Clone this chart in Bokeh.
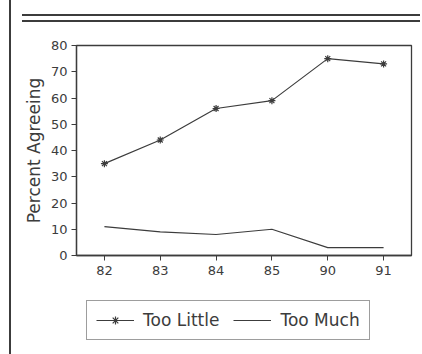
from bokeh.plotting import figure
from bokeh.layouts import column
from bokeh.models import (ColumnDataSource, FixedTicker, Legend, LegendItem, Range1d,
                          InlineStyleSheet)
from bokeh.embed import file_html
from bokeh.resources import INLINE

years = ["82", "83", "84", "85", "90", "91"]
too_little = [35, 44, 56, 59, 75, 73]
too_much = [11, 9, 8, 10, 3, 3]
y_ticks = [0, 10, 20, 30, 40, 50, 60, 70, 80]
series_names = ["Too Little", "Too Much"]

xs = list(range(len(years)))
src = ColumnDataSource(dict(x=xs, little=too_little, much=too_much))

FONT = "DejaVu Sans"
INK = "#3c3c3c"

p = figure(frame_width=335, frame_height=210, output_backend="svg", toolbar_location=None,
           x_range=Range1d(-0.5, len(years) - 0.5), y_range=Range1d(0, 80),
           min_border_left=76, min_border_right=2, min_border_top=45,
           min_border_bottom=40)
p.background_fill_color = "white"
p.border_fill_color = "white"
p.grid.visible = False
p.outline_line_color = INK
p.outline_line_width = 1.3

p.xaxis.ticker = FixedTicker(ticks=xs)
p.xaxis.major_label_overrides = {i: t for i, t in enumerate(years)}
p.yaxis.ticker = FixedTicker(ticks=y_ticks)
p.yaxis.axis_label = "Percent Agreeing"
for ax in (p.xaxis[0], p.yaxis[0]):
    ax.axis_line_color = INK
    ax.axis_line_width = 1.3
    ax.major_tick_line_color = INK
    ax.major_tick_in = 0
    ax.major_tick_out = 5
    ax.minor_tick_line_color = None
    ax.major_label_text_font = FONT
    ax.major_label_text_font_size = "13px"
    ax.major_label_text_color = INK
p.xaxis.major_label_standoff = 5
p.yaxis.major_label_standoff = 4
p.yaxis.axis_label_text_font = FONT
p.yaxis.axis_label_text_font_size = "17px"
p.yaxis.axis_label_text_font_style = "normal"
p.yaxis.axis_label_text_color = INK
p.yaxis.axis_label_standoff = 4

p.line("x", "little", source=src, line_color=INK, line_width=1.2)
p.scatter("x", "little", source=src, marker="asterisk", size=7,
          line_color=INK, line_width=1.2)
p.line("x", "much", source=src, line_color=INK, line_width=1.2)

p.stylesheets = [InlineStyleSheet(css="""
:host::after { content: ""; position: absolute; left: 0; top: 0; width: 422px;
  height: 354px; pointer-events: none;
  background:
    linear-gradient(#3c3c3c, #3c3c3c) 9px 0 / 2px 354px no-repeat,
    linear-gradient(#3c3c3c, #3c3c3c) 22px 14px / 398px 2px no-repeat,
    linear-gradient(#3c3c3c, #3c3c3c) 22px 20px / 398px 2px no-repeat;
}
""")]

# legend strip below the chart (same series, drawn out of this strip's view)
p2 = figure(width=414, height=59, output_backend="svg", toolbar_location=None,
            x_range=Range1d(-0.5, len(years) - 0.5), y_range=Range1d(-2, -1),
            x_axis_type=None, y_axis_type=None, min_border=0)
p2.background_fill_color = "white"
p2.border_fill_color = "white"
p2.outline_line_color = None
p2.grid.visible = False
k1 = p2.line("x", "little", source=src, line_color=INK, line_width=1.2)
k1m = p2.scatter("x", "little", source=src, marker="asterisk", size=7,
                 line_color=INK, line_width=1.2)
k2 = p2.line("x", "much", source=src, line_color=INK, line_width=1.2)

legend = Legend(items=[LegendItem(label=series_names[0], renderers=[k1, k1m]),
                       LegendItem(label=series_names[1], renderers=[k2])],
                orientation="horizontal", location=(10, 14))
legend.label_text_font = FONT
legend.label_text_font_size = "17px"
legend.label_text_color = INK
legend.border_line_color = INK
legend.border_line_width = 1.3
legend.background_fill_alpha = 0
legend.glyph_width = 38
legend.label_standoff = 9
legend.spacing = 14
legend.padding = 9
legend.margin = 0
p2.add_layout(legend, "center")

p2.stylesheets = [InlineStyleSheet(css="""
:host::after { content: ""; position: absolute; left: 0; top: 0; width: 422px;
  height: 59px; pointer-events: none;
  background: linear-gradient(#3c3c3c, #3c3c3c) 9px 0 / 2px 59px no-repeat;
}
""")]

layout = column(p, p2, spacing=0)
open("out.html", "w").write(file_html(layout, INLINE))
